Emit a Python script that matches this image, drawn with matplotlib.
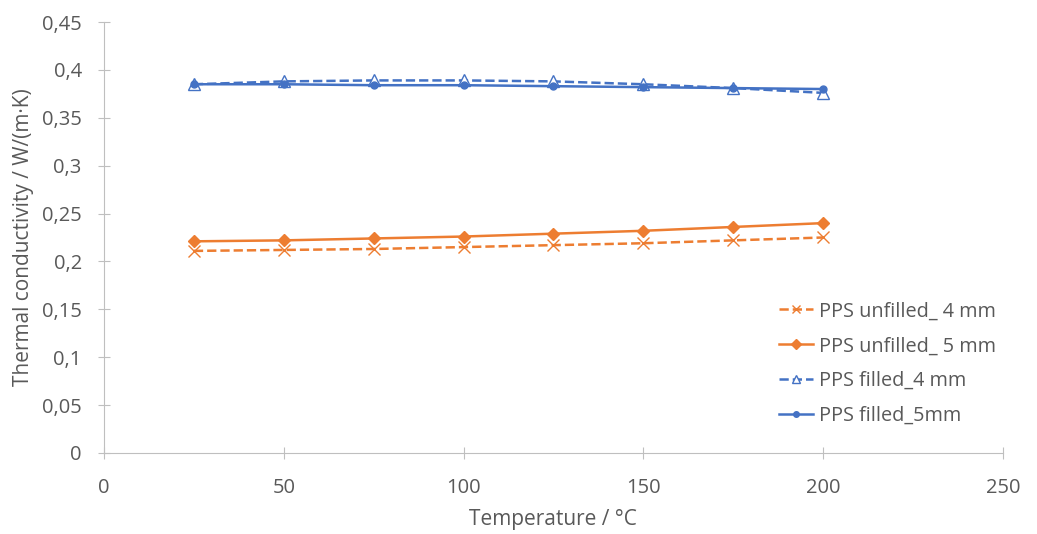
import matplotlib
matplotlib.use("Agg")
import matplotlib.pyplot as plt
from matplotlib.ticker import FuncFormatter

plt.rcParams['font.family'] = ['Open Sans', 'DejaVu Sans']

temperature = [25, 50, 75, 100, 125, 150, 175, 200]
unfilled_4mm = [0.211, 0.212, 0.213, 0.215, 0.217, 0.219, 0.222, 0.225]
unfilled_5mm = [0.221, 0.222, 0.224, 0.226, 0.229, 0.232, 0.236, 0.240]
filled_4mm = [0.385, 0.388, 0.389, 0.389, 0.388, 0.385, 0.381, 0.376]
filled_5mm = [0.385, 0.385, 0.384, 0.384, 0.383, 0.382, 0.381, 0.380]

orange = "#ED7D31"
blue = "#4472C4"
grey = "#595959"

fig = plt.figure(figsize=(10.37, 5.34), dpi=100)
ax = fig.add_axes([0.1003, 0.1517, 0.8667, 0.8071])

ax.plot(temperature, unfilled_4mm, "--", color=orange, marker="x", markersize=8,
        linewidth=1.8, label="PPS unfilled_ 4 mm")
ax.plot(temperature, unfilled_5mm, "-", color=orange, marker="D", markersize=6,
        linewidth=1.8, label="PPS unfilled_ 5 mm")
ax.plot(temperature, filled_4mm, "--", color=blue, marker="^", markersize=8,
        markerfacecolor="white", linewidth=1.8, label="PPS filled_4 mm")
ax.plot(temperature, filled_5mm, "-", color=blue, marker="o", markersize=5,
        linewidth=1.8, label="PPS filled_5mm")

ax.set_xlim(0, 250)
ax.set_ylim(0, 0.45)
ax.set_xticks(range(0, 251, 50))
ax.set_yticks([i * 0.05 for i in range(10)])
ax.yaxis.set_major_formatter(FuncFormatter(lambda v, p: ("%g" % round(v, 2)).replace(".", ",")))

for s in ["top", "right"]:
    ax.spines[s].set_visible(False)
for s in ["left", "bottom"]:
    ax.spines[s].set_color("#BFBFBF")
ax.tick_params(direction="inout", length=8, width=0.8, color="#BFBFBF",
               labelsize=14.5, labelcolor=grey)
ax.tick_params(axis="y", pad=12)
ax.tick_params(axis="x", pad=14)

ax.set_xlabel("Temperature / °C", fontsize=15, color=grey, labelpad=8)
ax.set_ylabel("Thermal conductivity / W/(m·K)", fontsize=15, color=grey, labelpad=6)

leg = ax.legend(loc="lower right", bbox_to_anchor=(1.012, 0.021), frameon=False,
                fontsize=14.3, labelcolor=grey, handlelength=1.7, labelspacing=0.75,
                markerscale=0.8, handletextpad=0.3)

fig.savefig("out.png", dpi=100)
